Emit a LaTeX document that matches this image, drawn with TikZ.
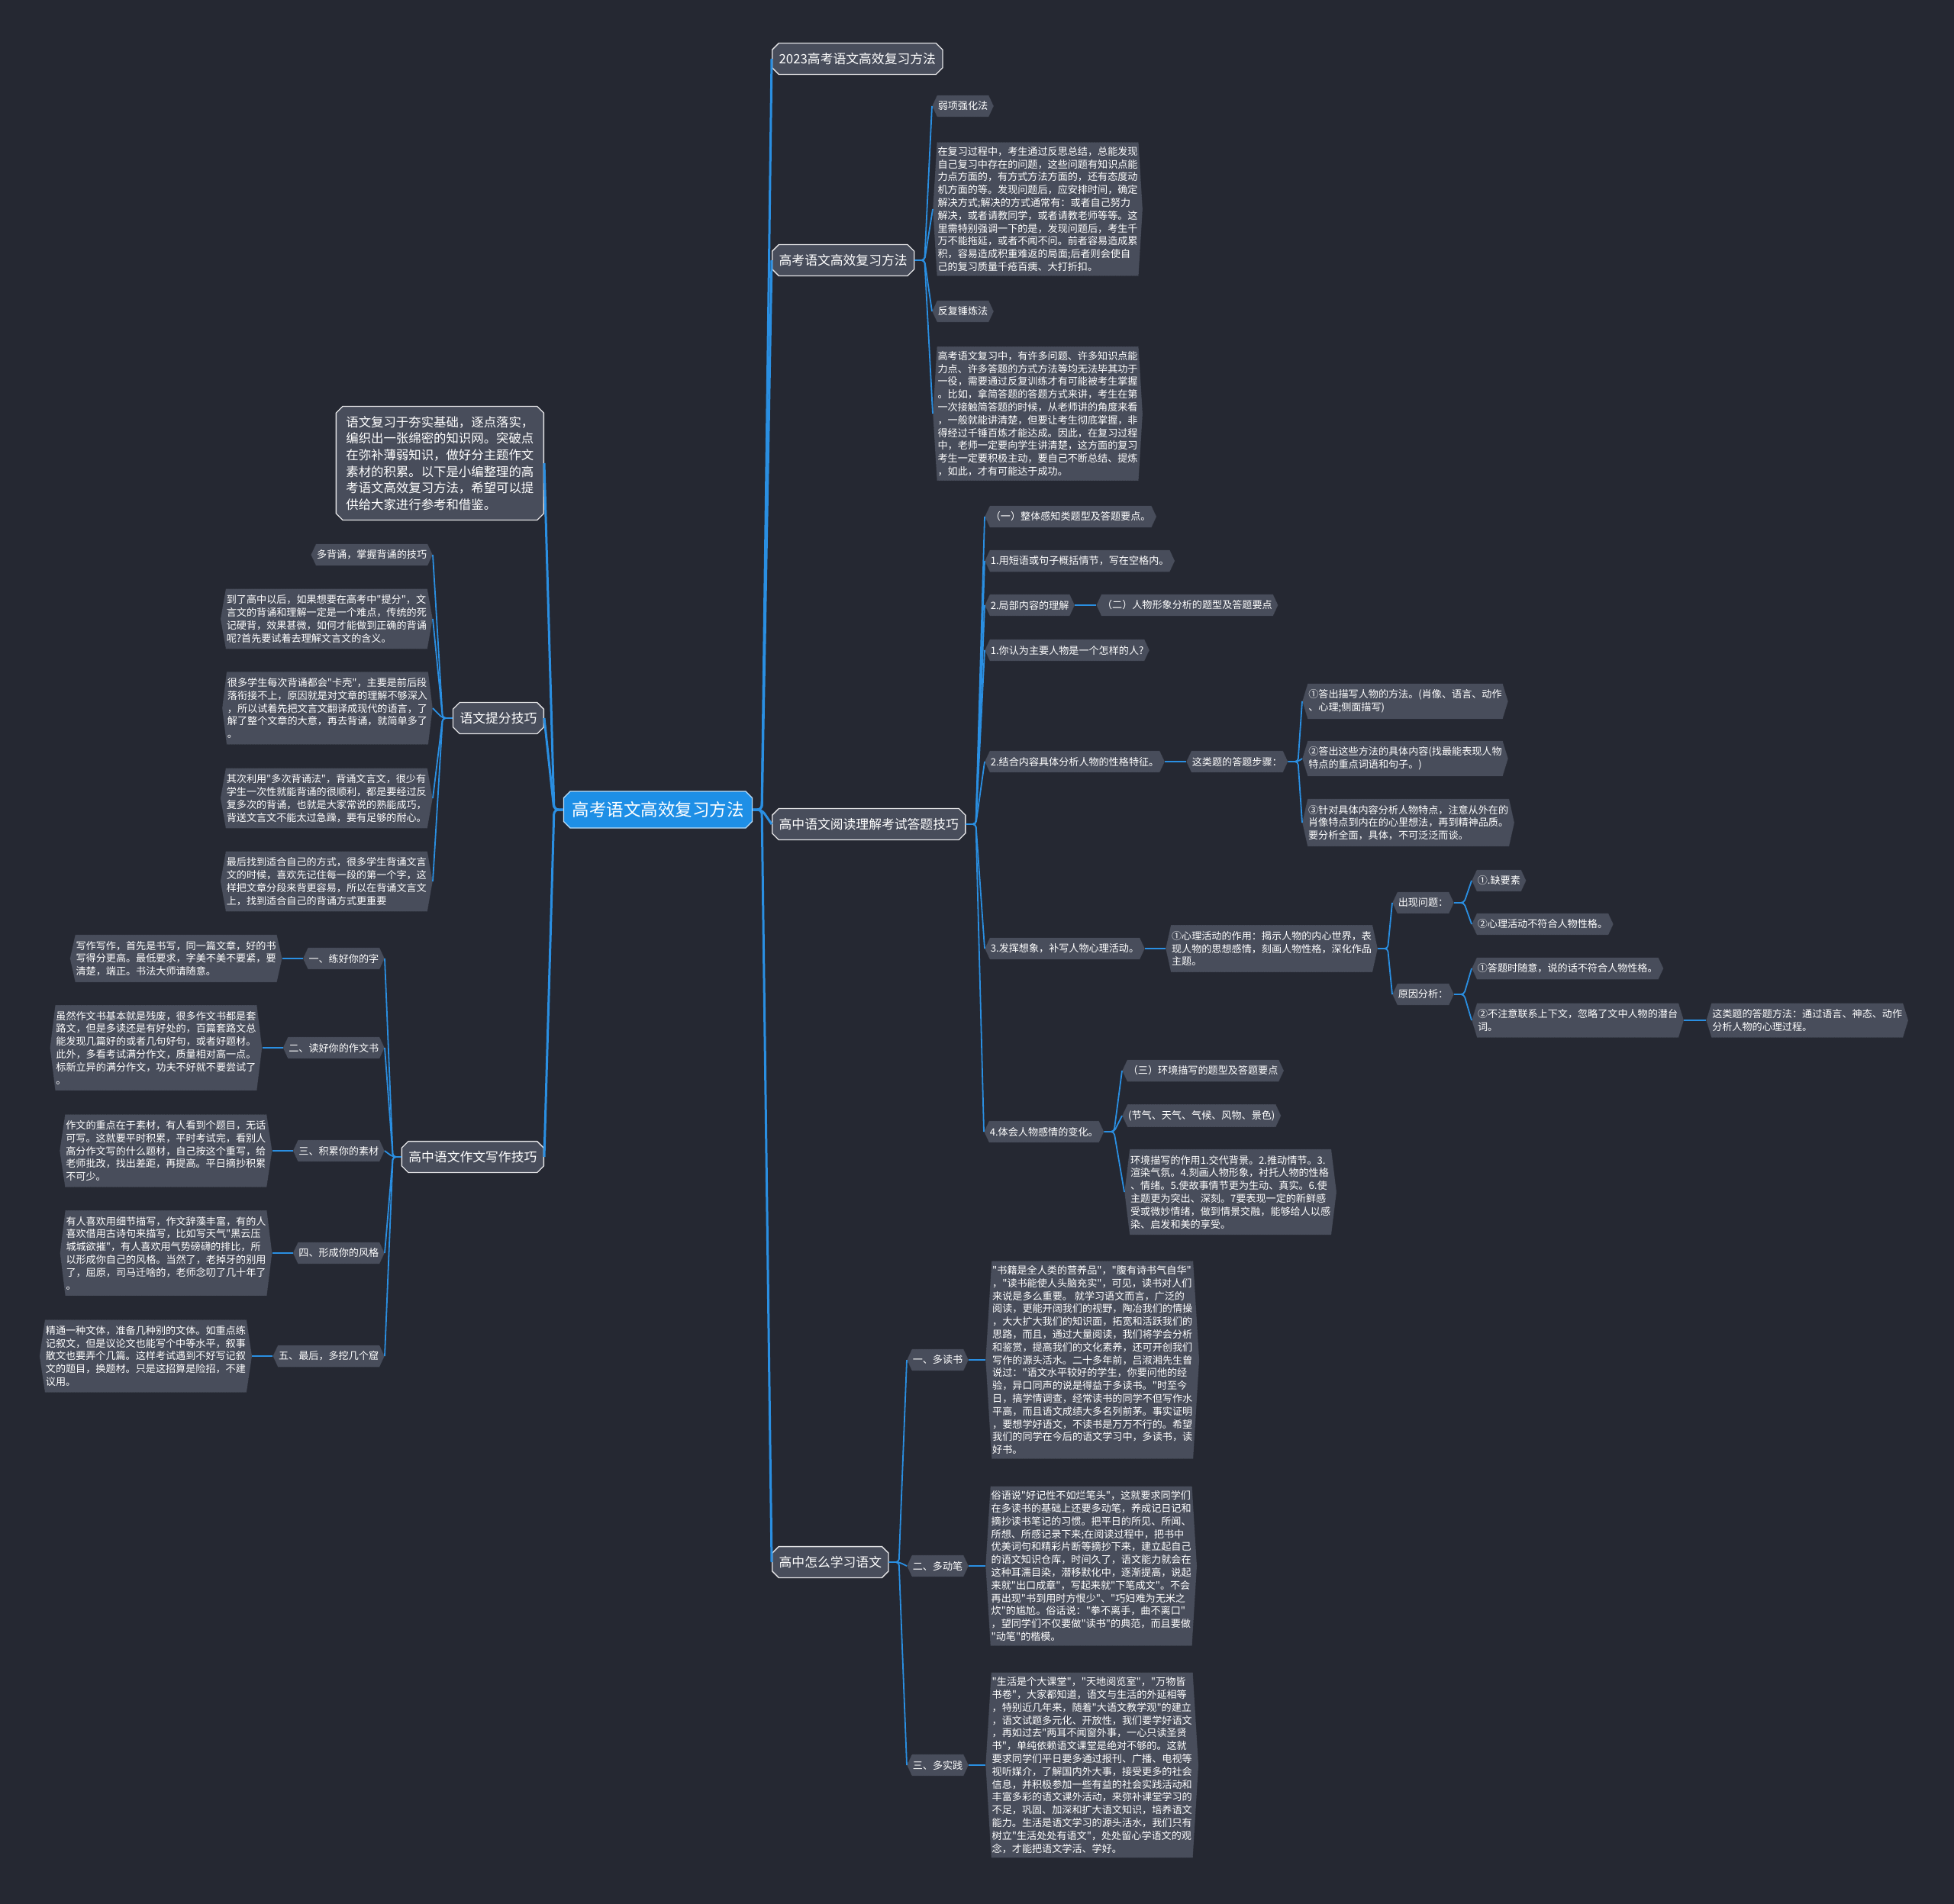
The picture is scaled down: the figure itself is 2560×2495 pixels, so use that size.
\documentclass[tikz,border=0pt]{standalone}
\usepackage{fontspec}
\setmainfont{Noto Sans CJK SC}[Ligatures=TeXOff]
\usetikzlibrary{shapes.misc,shapes.symbols,positioning}
\definecolor{bgc}{HTML}{252832}
\definecolor{boxc}{HTML}{484D5B}
\definecolor{hubc}{HTML}{1E8FE6}
\definecolor{linkc}{HTML}{2A8FE2}
\tikzset{
  hub/.style={chamfered rectangle, chamfered rectangle xsep=5pt, fill=hubc, draw=white!70!hubc,
    line width=1.2pt, text=white, inner xsep=6pt, inner ysep=10pt, font=\fontsize{22.5}{27}\selectfont},
  topic/.style={chamfered rectangle, chamfered rectangle xsep=5pt, fill=boxc, draw=white!85!boxc,
    line width=1.3pt, text=white, inner xsep=4pt, inner ysep=9pt, align=left, font=\fontsize{16.8}{21}\selectfont},
  tag/.style={signal, signal to=west and east, signal pointer angle=#1, fill=boxc, draw=boxc!55!black,
    densely dotted, text=white, inner xsep=1pt, inner ysep=8pt, align=left, font=\fontsize{13.1}{16.8}\selectfont},
  tag/.default=130,
  para/.style={tag=173, inner ysep=6pt},
  trunk/.style={draw=linkc, line width=3pt, rounded corners=6pt},
  link/.style={draw=linkc, line width=1.8pt, rounded corners=4pt}
}
\begin{document}
\begin{tikzpicture}[x=1pt, y=-1pt]
  \useasboundingbox (0,0) rectangle (2560,2495);
  \fill[bgc] (0,0) rectangle (2560,2495);

  \node[hub] (root) at (862,1061) {高考语文高效复习方法};

  % right side
  \begin{scope}[every node/.append style={anchor=west}]
  \node[topic] (t2023) at (1011,77) {2023高考语文高效复习方法};

  \node[topic] (tfx) at (1011,341) {高考语文高效复习方法};
  \node[tag] (fxa) at (1221,139) {弱项强化法};
  \node[para] (fxb) at (1222,274) {在复习过程中，考生通过反思总结，总能发现\\自己复习中存在的问题，这些问题有知识点能\\力点方面的，有方式方法方面的，还有态度动\\机方面的等。发现问题后，应安排时间，确定\\解决方式;解决的方式通常有：或者自己努力\\解决，或者请教同学，或者请教老师等等。这\\里需特别强调一下的是，发现问题后，考生千\\万不能拖延，或者不闻不问。前者容易造成累\\积，容易造成积重难返的局面;后者则会使自\\己的复习质量千疮百痍、大打折扣。};
  \node[tag] (fxc) at (1221,408) {反复锤炼法};
  \node[para] (fxd) at (1222,542) {高考语文复习中，有许多问题、许多知识点能\\力点、许多答题的方式方法等均无法毕其功于\\一役，需要通过反复训练才有可能被考生掌握\\。比如，拿简答题的答题方式来讲，考生在第\\一次接触简答题的时候，从老师讲的角度来看\\，一般就能讲清楚，但要让考生彻底掌握，非\\得经过千锤百炼才能达成。因此，在复习过程\\中，老师一定要向学生讲清楚，这方面的复习\\考生一定要积极主动，要自己不断总结、提炼\\，如此，才有可能达于成功。};

  \node[topic] (tyd) at (1011,1080) {高中语文阅读理解考试答题技巧};
  \node[tag] (yda) at (1290,677) {（一）整体感知类题型及答题要点。};
  \node[tag] (ydb) at (1290,735) {1.用短语或句子概括情节，写在空格内。};
  \node[tag] (ydc) at (1290,793) {2.局部内容的理解};
  \node[tag, right=28pt of ydc] (ydc1) {（二）人物形象分析的题型及答题要点};
  \node[tag] (ydd) at (1290,852) {1.你认为主要人物是一个怎样的人?};
  \node[tag] (yde) at (1290,998) {2.结合内容具体分析人物的性格特征。};
  \node[tag, right=28pt of yde] (yde1) {这类题的答题步骤：};
  \node[tag=146] (ydeA) at (1706,919) {①答出描写人物的方法。(肖像、语言、动作\\、心理;侧面描写)};
  \node[tag=146] (ydeB) at (1706,994) {②答出这些方法的具体内容(找最能表现人物\\特点的重点词语和句子。)};
  \node[tag=155] (ydeC) at (1706,1078) {③针对具体内容分析人物特点，注意从外在的\\肖像特点到内在的心里想法，再到精神品质。\\要分析全面，具体，不可泛泛而谈。};
  \node[tag] (ydf) at (1290,1243) {3.发挥想象，补写人物心理活动。};
  \node[tag=155, right=27pt of ydf] (ydf1) {①心理活动的作用：揭示人物的内心世界，表\\现人物的思想感情，刻画人物性格，深化作品\\主题。};
  \node[tag] (ydfA) at (1824,1183) {出现问题：};
  \node[tag] (ydfA1) at (1928,1154) {①.缺要素};
  \node[tag] (ydfA2) at (1928,1211) {②心理活动不符合人物性格。};
  \node[tag] (ydfB) at (1824,1303) {原因分析：};
  \node[tag] (ydfB1) at (1928,1269) {①答题时随意，说的话不符合人物性格。};
  \node[tag=146] (ydfB2) at (1928,1337) {②不注意联系上下文，忽略了文中人物的潜台\\词。};
  \node[tag=146, right=29pt of ydfB2] (ydfB2a) {这类题的答题方法：通过语言、神态、动作\\分析人物的心理过程。};
  \node[tag] (ydg) at (1289,1483) {4.体会人物感情的变化。};
  \node[tag] (ydg1) at (1470,1403) {（三）环境描写的题型及答题要点};
  \node[tag] (ydg2) at (1470,1462) {(节气、天气、气候、风物、景色)};
  \node[tag=166] (ydg3) at (1473,1562) {环境描写的作用1.交代背景。2.推动情节。3.\\渲染气氛。4.刻画人物形象，衬托人物的性格\\、情绪。5.使故事情节更为生动、真实。6.使\\主题更为突出、深刻。7要表现一定的新鲜感\\受或微妙情绪，做到情景交融，能够给人以感\\染、启发和美的享受。};

  \node[topic] (txx) at (1011,2047) {高中怎么学习语文};
  \node[tag] (xxa) at (1188,1782) {一、多读书};
  \node[para, right=22pt of xxa] (xxa1) {"书籍是全人类的营养品"，"腹有诗书气自华"\\，"读书能使人头脑充实"，可见，读书对人们\\来说是多么重要。 就学习语文而言，广泛的\\阅读，更能开阔我们的视野，陶冶我们的情操\\，大大扩大我们的知识面，拓宽和活跃我们的\\思路，而且，通过大量阅读，我们将学会分析\\和鉴赏，提高我们的文化素养，还可开创我们\\写作的源头活水。二十多年前，吕淑湘先生曾\\说过："语文水平较好的学生，你要问他的经\\验，异口同声的说是得益于多读书。"时至今\\日，搞学情调查，经常读书的同学不但写作水\\平高，而且语文成绩大多名列前茅。事实证明\\，要想学好语文，不读书是万万不行的。希望\\我们的同学在今后的语文学习中，多读书，读\\好书。};
  \node[tag] (xxb) at (1188,2052) {二、多动笔};
  \node[para, right=22pt of xxb] (xxb1) {俗语说"好记性不如烂笔头"，这就要求同学们\\在多读书的基础上还要多动笔，养成记日记和\\摘抄读书笔记的习惯。把平日的所见、所闻、\\所想、所感记录下来;在阅读过程中，把书中\\优美词句和精彩片断等摘抄下来，建立起自己\\的语文知识仓库，时间久了，语文能力就会在\\这种耳濡目染，潜移默化中，逐渐提高，说起\\来就"出口成章"，写起来就"下笔成文"。不会\\再出现"书到用时方恨少"、"巧妇难为无米之\\炊"的尴尬。俗话说："拳不离手，曲不离口"\\，望同学们不仅要做"读书"的典范，而且要做\\"动笔"的楷模。};
  \node[tag] (xxc) at (1188,2313) {三、多实践};
  \node[para, right=22pt of xxc] (xxc1) {"生活是个大课堂"，"天地阅览室"，"万物皆\\书卷"，大家都知道，语文与生活的外延相等\\，特别近几年来，随着"大语文教学观"的建立\\，语文试题多元化、开放性，我们要学好语文\\，再如过去"两耳不闻窗外事，一心只读圣贤\\书"，单纯依赖语文课堂是绝对不够的。这就\\要求同学们平日要多通过报刊、广播、电视等\\视听媒介，了解国内外大事，接受更多的社会\\信息，并积极参加一些有益的社会实践活动和\\丰富多彩的语文课外活动，来弥补课堂学习的\\不足，巩固、加深和扩大语文知识，培养语文\\能力。生活是语文学习的源头活水，我们只有\\树立"生活处处有语文"，处处留心学语文的观\\念，才能把语文学活、学好。};
  \end{scope}

  % left side
  \begin{scope}[every node/.append style={anchor=east}]
  \node[topic, inner xsep=8pt, font=\fontsize{16.4}{21.7}\selectfont] (intro) at (713,607) {语文复习于夯实基础，逐点落实，\\编织出一张绵密的知识网。突破点\\在弥补薄弱知识，做好分主题作文\\素材的积累。以下是小编整理的高\\考语文高效复习方法，希望可以提\\供给大家进行参考和借鉴。};

  \node[topic] (ttf) at (713,941) {语文提分技巧};
  \node[tag] (tfa) at (567,727) {多背诵，掌握背诵的技巧};
  \node[tag=160] (tfb) at (567,811) {到了高中以后，如果想要在高考中"提分"，文\\言文的背诵和理解一定是一个难点，传统的死\\记硬背，效果甚微，如何才能做到正确的背诵\\呢?首先要试着去理解文言文的含义。};
  \node[tag=166] (tfc) at (567,928) {很多学生每次背诵都会"卡壳"，主要是前后段\\落衔接不上，原因就是对文章的理解不够深入\\，所以试着先把文言文翻译成现代的语言，了\\解了整个文章的大意，再去背诵，就简单多了\\。};
  \node[tag=160] (tfd) at (567,1046) {其次利用"多次背诵法"，背诵文言文，很少有\\学生一次性就能背诵的很顺利，都是要经过反\\复多次的背诵，也就是大家常说的熟能成巧，\\背送文言文不能太过急躁，要有足够的耐心。};
  \node[tag=160] (tfe) at (567,1155) {最后找到适合自己的方式，很多学生背诵文言\\文的时候，喜欢先记住每一段的第一个字，这\\样把文章分段来背更容易，所以在背诵文言文\\上，找到适合自己的背诵方式更重要};

  \node[topic] (tzw) at (713,1516) {高中语文作文写作技巧};
  \node[tag] (zwa) at (504,1256) {一、练好你的字};
  \node[tag=155, left=27pt of zwa] (zwa1) {写作写作，首先是书写，同一篇文章，好的书\\写得分更高。最低要求，字美不美不要紧，要\\清楚，端正。书法大师请随意。};
  \node[tag] (zwb) at (504,1373) {二、读好你的作文书};
  \node[tag=166, left=27pt of zwb] (zwb1) {虽然作文书基本就是残废，很多作文书都是套\\路文，但是多读还是有好处的，百篇套路文总\\能发现几篇好的或者几句好句，或者好题材。\\此外，多看考试满分作文，质量相对高一点。\\标新立异的满分作文，功夫不好就不要尝试了\\。};
  \node[tag] (zwc) at (504,1508) {三、积累你的素材};
  \node[tag=163, left=27pt of zwc] (zwc1) {作文的重点在于素材，有人看到个题目，无话\\可写。这就要平时积累，平时考试完，看别人\\高分作文写的什么题材，自己按这个重写，给\\老师批改，找出差距，再提高。平日摘抄积累\\不可少。};
  \node[tag] (zwd) at (504,1642) {四、形成你的风格};
  \node[tag=166, left=27pt of zwd] (zwd1) {有人喜欢用细节描写，作文辞藻丰富，有的人\\喜欢借用古诗句来描写，比如写天气"黑云压\\城城欲摧"，有人喜欢用气势磅礴的排比，所\\以形成你自己的风格。当然了，老掉牙的别用\\了，屈原，司马迁啥的，老师念叨了几十年了\\。};
  \node[tag] (zwe) at (504,1777) {五、最后，多挖几个窟};
  \node[tag=163, left=27pt of zwe] (zwe1) {精通一种文体，准备几种别的文体。如重点练\\记叙文，但是议论文也能写个中等水平，叙事\\散文也要弄个几篇。这样考试遇到不好写记叙\\文的题目，换题材。只是这招算是险招，不建\\议用。};
  \end{scope}

  % connectors
  \foreach \t in {t2023,tfx,tyd,txx} \draw[trunk] (root.east) -- ++(12,0) -- (\t.west);
  \foreach \t in {intro,ttf,tzw} \draw[trunk] (root.west) -- ++(-12,0) -- (\t.east);
  \foreach \c in {fxa,fxb,fxc,fxd} \draw[link] (tfx.east) -- ++(13,0) -- (\c.west);
  \foreach \c in {yda,ydb,ydc,ydd,yde,ydf,ydg} \draw[link] (tyd.east) -- ++(13,0) -- (\c.west);
  \foreach \c in {ydeA,ydeB,ydeC} \draw[link] (yde1.east) -- ++(13,0) -- (\c.west);
  \foreach \c in {ydfA,ydfB} \draw[link] (ydf1.east) -- ++(13,0) -- (\c.west);
  \foreach \c in {ydfA1,ydfA2} \draw[link] (ydfA.east) -- ++(13,0) -- (\c.west);
  \foreach \c in {ydfB1,ydfB2} \draw[link] (ydfB.east) -- ++(13,0) -- (\c.west);
  \foreach \c in {ydg1,ydg2,ydg3} \draw[link] (ydg.east) -- ++(13,0) -- (\c.west);
  \foreach \c in {xxa,xxb,xxc} \draw[link] (txx.east) -- ++(13,0) -- (\c.west);
  \foreach \a/\b in {ydc/ydc1,yde/yde1,ydf/ydf1,ydfB2/ydfB2a,xxa/xxa1,xxb/xxb1,xxc/xxc1}
    \draw[link] (\a.east) -- (\b.west);
  \foreach \c in {tfa,tfb,tfc,tfd,tfe} \draw[link] (ttf.west) -- ++(-13,0) -- (\c.east);
  \foreach \c in {zwa,zwb,zwc,zwd,zwe} \draw[link] (tzw.west) -- ++(-11,0) -- (\c.east);
  \foreach \a/\b in {zwa/zwa1,zwb/zwb1,zwc/zwc1,zwd/zwd1,zwe/zwe1}
    \draw[link] (\a.west) -- (\b.east);
\end{tikzpicture}
\end{document}
